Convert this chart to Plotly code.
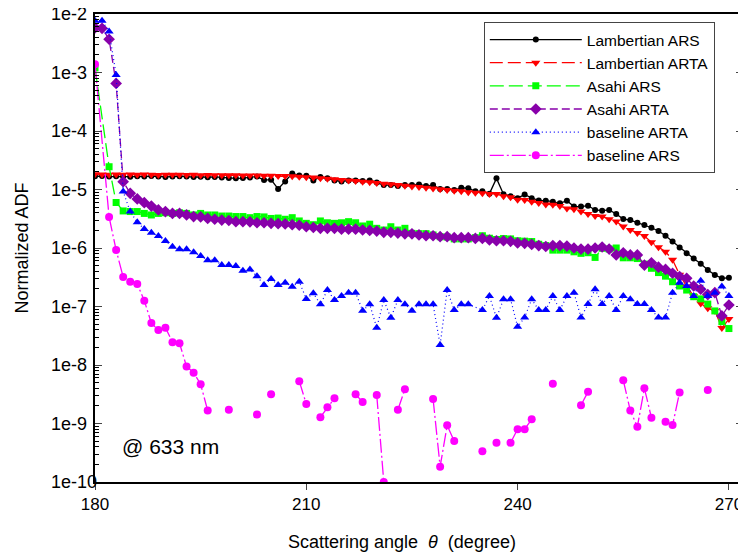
import plotly.graph_objects as go

# ---------------- data ----------------
angles = list(range(180, 271))

lambertian_ars = [
    1.68e-5, 1.70e-5, 1.66e-5, 1.69e-5, 1.67e-5, 1.65e-5, 1.68e-5, 1.66e-5, 1.70e-5, 1.67e-5,
    1.64e-5, 1.66e-5, 1.69e-5, 1.66e-5, 1.63e-5, 1.65e-5, 1.62e-5, 1.64e-5, 1.60e-5, 1.58e-5,
    1.55e-5, 1.57e-5, 1.60e-5, 1.66e-5, 1.45e-5, 1.47e-5, 1.02e-5, 1.37e-5, 1.87e-5, 1.74e-5,
    1.72e-5, 1.43e-5, 1.64e-5, 1.55e-5, 1.43e-5, 1.37e-5, 1.43e-5, 1.43e-5, 1.40e-5, 1.43e-5,
    1.32e-5, 1.19e-5, 1.19e-5, 1.15e-5, 1.19e-5, 1.19e-5, 1.22e-5, 1.15e-5, 1.19e-5, 1.02e-5,
    1.02e-5, 9.8e-6, 1.07e-5, 1.05e-5, 9.3e-6, 9.3e-6, 8.5e-6, 1.55e-5, 8.3e-6, 7.7e-6,
    7.1e-6, 8.2e-6, 7.1e-6, 6.5e-6, 6.45e-6, 6.2e-6, 5.8e-6, 6.45e-6, 5.1e-6, 5.1e-6,
    5.3e-6, 4.47e-6, 4.35e-6, 4.47e-6, 3.81e-6, 3.13e-6, 3.0e-6, 2.71e-6, 2.47e-6, 2.22e-6,
    1.95e-6, 1.62e-6, 1.29e-6, 1.02e-6, 8.1e-7, 6.6e-7, 5.4e-7, 4.2e-7, 3.47e-7, 3.03e-7,
    3.1e-7,
]

lambertian_arta = [
    1.82e-5, 1.80e-5, 1.79e-5, 1.81e-5, 1.79e-5, 1.80e-5, 1.78e-5, 1.80e-5, 1.79e-5, 1.77e-5,
    1.79e-5, 1.78e-5, 1.79e-5, 1.77e-5, 1.78e-5, 1.76e-5, 1.77e-5, 1.76e-5, 1.75e-5, 1.76e-5,
    1.75e-5, 1.73e-5, 1.74e-5, 1.73e-5, 1.72e-5, 1.71e-5, 1.70e-5, 1.70e-5, 1.68e-5, 1.65e-5,
    1.62e-5, 1.60e-5, 1.55e-5, 1.53e-5, 1.50e-5, 1.46e-5, 1.43e-5, 1.40e-5, 1.36e-5, 1.33e-5,
    1.29e-5, 1.26e-5, 1.23e-5, 1.19e-5, 1.16e-5, 1.13e-5, 1.10e-5, 1.07e-5, 1.04e-5, 1.01e-5,
    9.8e-6, 9.5e-6, 9.3e-6, 9.0e-6, 8.8e-6, 8.6e-6, 8.4e-6, 8.35e-6, 7.7e-6, 7.35e-6,
    6.7e-6, 6.6e-6, 6.2e-6, 5.9e-6, 5.55e-6, 5.5e-6, 5.2e-6, 4.75e-6, 4.6e-6, 4.2e-6,
    3.81e-6, 3.52e-6, 3.45e-6, 3.1e-6, 2.83e-6, 2.32e-6, 2.03e-6, 1.8e-6, 1.6e-6, 1.25e-6,
    1.03e-6, 8.6e-7, 6.3e-7, 3.5e-7, 2.2e-7, 1.5e-7, 1.13e-7, 9.3e-8, 8.5e-8, 4.3e-8,
    6.1e-8,
]

asahi_ars_angles = [180] + list(range(182, 271))
asahi_ars = [
    1.2e-3, 2.45e-5, 6.0e-6, 4.3e-6, 4.2e-6, 4.2e-6, 3.9e-6, 3.67e-6, 3.9e-6, 4.0e-6,
    3.9e-6, 4.0e-6, 3.9e-6, 3.67e-6, 3.9e-6, 3.67e-6, 3.67e-6, 3.52e-6, 3.52e-6, 3.45e-6,
    3.45e-6, 3.3e-6, 3.45e-6, 3.4e-6, 3.2e-6, 3.25e-6, 3.1e-6, 3.3e-6, 2.9e-6, 2.64e-6,
    2.5e-6, 2.9e-6, 2.7e-6, 2.64e-6, 2.7e-6, 2.82e-6, 2.7e-6, 2.38e-6, 2.55e-6, 2.17e-6,
    2.03e-6, 2.31e-6, 2.03e-6, 2.17e-6, 1.78e-6, 1.76e-6, 1.76e-6, 1.67e-6, 1.56e-6, 1.54e-6,
    1.43e-6, 1.43e-6, 1.43e-6, 1.5e-6, 1.62e-6, 1.47e-6, 1.4e-6, 1.45e-6, 1.43e-6, 1.33e-6,
    1.31e-6, 1.29e-6, 1.16e-6, 1.1e-6, 9.2e-7, 9.2e-7, 9.2e-7, 8.6e-7, 8.1e-7, 8.3e-7,
    6.9e-7, 9.9e-7, 9.6e-7, 1.0e-6, 6.8e-7, 6.8e-7, 6.6e-7, 5.3e-7, 4.5e-7, 3.8e-7,
    3.3e-7, 2.65e-7, 2.24e-7, 1.91e-7, 1.47e-7, 1.35e-7, 1.1e-7, 8.4e-8, 5.5e-8, 4.2e-8,
]

asahi_arta = [
    5.8e-3, 5.7e-3, 3.7e-3, 6.5e-4, 1.36e-5, 8.6e-6, 6.9e-6, 5.96e-6, 5.2e-6, 4.47e-6,
    4.2e-6, 3.9e-6, 3.9e-6, 3.67e-6, 3.45e-6, 3.4e-6, 3.2e-6, 3.1e-6, 3.0e-6, 2.95e-6,
    2.82e-6, 2.82e-6, 2.8e-6, 2.7e-6, 2.7e-6, 2.64e-6, 2.6e-6, 2.58e-6, 2.5e-6, 2.45e-6,
    2.31e-6, 2.24e-6, 2.17e-6, 2.17e-6, 2.17e-6, 2.1e-6, 2.1e-6, 2.1e-6, 2.03e-6, 2.0e-6,
    1.95e-6, 1.85e-6, 1.85e-6, 1.8e-6, 1.75e-6, 1.75e-6, 1.67e-6, 1.62e-6, 1.62e-6, 1.56e-6,
    1.56e-6, 1.5e-6, 1.5e-6, 1.5e-6, 1.46e-6, 1.46e-6, 1.37e-6, 1.33e-6, 1.33e-6, 1.3e-6,
    1.22e-6, 1.2e-6, 1.15e-6, 1.1e-6, 1.06e-6, 1.1e-6, 1.1e-6, 1.08e-6, 1.0e-6, 9.6e-7,
    9.6e-7, 1.0e-6, 1.04e-6, 9.6e-7, 7.6e-7, 8.3e-7, 7.6e-7, 7.6e-7, 5.1e-7, 5.6e-7,
    4.7e-7, 4.3e-7, 3.7e-7, 3.25e-7, 3.03e-7, 2.24e-7, 1.97e-7, 1.6e-7, 1.72e-7, 6.9e-8,
    1.06e-7,
]

baseline_arta_angles = list(range(180, 234)) + list(range(235, 271))
baseline_arta = [
    7.7e-3, 7.7e-3, 5.0e-3, 9.1e-4, 9.2e-6, 4.2e-6, 2.75e-6, 2.11e-6, 1.83e-6, 1.6e-6,
    1.32e-6, 1.05e-6, 9.5e-7, 9.5e-7, 8.5e-7, 7.3e-7, 6.2e-7, 6.2e-7, 5.1e-7, 5.1e-7,
    4.9e-7, 4.1e-7, 4.3e-7, 3.3e-7, 2.33e-7, 2.95e-7, 2.33e-7, 2.55e-7, 2.18e-7, 2.65e-7,
    1.35e-7, 1.68e-7, 1.09e-7, 1.91e-7, 1.29e-7, 1.51e-7, 1.72e-7, 1.72e-7, 8.5e-8, 1.09e-7,
    4.35e-8, 1.29e-7, 6.4e-8, 1.29e-7, 1.09e-7, 8.5e-8, 1.09e-7, 1.09e-7, 1.09e-7, 2.2e-8,
    1.91e-7, 8.7e-8, 1.09e-7, 1.09e-7,
    8.7e-8, 1.51e-7, 6.4e-8, 1.33e-7, 1.33e-7, 4.5e-8, 6.5e-8, 1.33e-7, 8.7e-8, 8.7e-8,
    1.51e-7, 8.7e-8, 1.51e-7, 1.72e-7, 6.5e-8, 1.1e-7, 1.97e-7, 1.1e-7, 1.51e-7, 8.7e-8,
    1.51e-7, 1.33e-7, 1.1e-7, 1.1e-7, 8.7e-8, 6.5e-8, 6.5e-8, 1.72e-7, 2.55e-7, 2.24e-7,
    1.51e-7, 2.76e-7, 1.51e-7, 1.72e-7, 2.2e-7, 1.51e-7,
]

# None separates unconnected runs of measured points
baseline_ars_angles = [
    180, 182, 183, 184, 185, 186, 187, 188, 189, 190, 191, 192, 193, 194, 195, 196, None,
    199, None, 203, None, 205, None, 209, 210, None, 212, 213, 214, None, 217, 218, None,
    220, 221, None, 223, 224, None, 228, 229, 230, 231, None, 235, None, 237, None,
    239, 240, 241, 242, None, 245, None, 249, 250, None, 255, 256, 257, 258, 259, None,
    261, 262, 263, None, 267,
]
baseline_ars = [
    1.38e-3, 3.4e-6, 9.2e-7, 3.2e-7, 2.65e-7, 2.43e-7, 1.26e-7, 5.2e-8, 3.96e-8, 4.35e-8,
    2.45e-8, 2.35e-8, 9.4e-9, 7.4e-9, 4.7e-9, 1.66e-9, None,
    1.72e-9, None, 1.43e-9, None, 3.16e-9, None, 5.3e-9, 2.15e-9, None, 1.28e-9, 1.9e-9, 2.7e-9, None,
    3.15e-9, 2.33e-9, None, 3.07e-9, 1.0e-10, None, 1.72e-9, 3.85e-9, None,
    2.62e-9, 1.83e-10, 9.3e-10, 5.0e-10, None, 3.35e-10, None, 4.7e-10, None,
    4.7e-10, 8.0e-10, 8.0e-10, 1.18e-9, None, 4.8e-9, None, 2.05e-9, 3.5e-9, None,
    5.5e-9, 1.66e-9, 8.8e-10, 4.0e-9, 1.26e-9, None, 1.07e-9, 9.4e-10, 3.4e-9, None, 3.74e-9,
]

y_tick_exponents = [-10, -9, -8, -7, -6, -5, -4, -3, -2]
y_tick_text = ["1e-10", "1e-9", "1e-8", "1e-7", "1e-6", "1e-5", "1e-4", "1e-3", "1e-2"]
x_tick_vals = [180, 210, 240, 270]

FONT = "Arial, Liberation Sans, sans-serif"

fig = go.Figure()

series = [
    ("Lambertian ARS", angles, lambertian_ars, "black", "solid", "circle", 6, 1.3),
    ("Lambertian ARTA", angles, lambertian_arta, "#FF0000", "13px,5px", "triangle-down", 8, 1.3),
    ("Asahi ARS", asahi_ars_angles, asahi_ars, "#00FF00", "14px,5px", "square", 7, 1.3),
    ("Asahi ARTA", angles, asahi_arta, "#8800AA", "8px,4px", "diamond", 9, 1.3),
    ("baseline ARTA", baseline_arta_angles, baseline_arta, "#0000FF", "1px,3px", "triangle-up", 8, 1.2),
    ("baseline ARS", baseline_ars_angles, baseline_ars, "#FF00FF", "14px,3px,2px,3px", "circle", 8, 1.3),
]
for name, xs, ys, col, dash, sym, msize, lw in series:
    fig.add_trace(go.Scatter(
        x=xs, y=ys, name=name, mode="lines+markers",
        line=dict(color=col, dash=dash, width=lw),
        marker=dict(color=col, symbol=sym, size=msize, line=dict(width=0)),
        connectgaps=False,
    ))

minor_vals = [m * 10.0 ** e for e in range(-10, -2) for m in range(2, 10)]

# page body offsets the figure a few pixels; compensate so the plot sits where the reference has it
OFF_X, OFF_Y = 6, 8
annotations = [
    dict(text=t, x=-0.0708, y=e, xref="paper", yref="y", xanchor="left", yanchor="middle",
         showarrow=False, font=dict(size=18))
    for t, e in zip(y_tick_text, y_tick_exponents)
]
annotations += [
    dict(text="@ 633 nm", x=0.038, y=0.075, xref="paper", yref="paper",
         xanchor="left", yanchor="middle", showarrow=False, font=dict(size=21)),
    dict(text="Scattering angle  <i>θ</i>  (degree)", x=0.474, y=-0.128,
         xref="paper", yref="paper", xanchor="center", yanchor="middle",
         showarrow=False, font=dict(size=18)),
    dict(text="Normalized ADF", x=-0.112, y=0.5, xref="paper", yref="paper",
         xanchor="center", yanchor="middle", textangle=-90,
         showarrow=False, font=dict(size=18)),
]

fig.update_layout(
    width=746 - OFF_X, height=558 - OFF_Y,
    margin=dict(l=93 - OFF_X, r=3, t=14 - OFF_Y, b=76),
    paper_bgcolor="white", plot_bgcolor="white",
    font=dict(family=FONT, color="black"),
    xaxis=dict(
        range=[180, 272], tickvals=x_tick_vals, ticks="outside", ticklen=6,
        showline=True, linecolor="black", linewidth=1.5, mirror=True,
        showgrid=False, zeroline=False, tickfont=dict(size=17),
    ),
    yaxis=dict(
        type="log", range=[-10, -2], tickvals=[10.0 ** e for e in y_tick_exponents],
        showticklabels=False,
        ticks="inside", ticklen=7, mirror="allticks",
        showline=True, linecolor="black", linewidth=1.5,
        showgrid=False, zeroline=False,
        minor=dict(tickmode="array", tickvals=minor_vals, ticks="inside", ticklen=4,
                   tickcolor="black", showgrid=False),
    ),
    legend=dict(
        x=0.6, y=0.983, xanchor="left", yanchor="top",
        bgcolor="white", bordercolor="#444", borderwidth=1,
        font=dict(size=15.5, family=FONT),
        itemwidth=92, tracegroupgap=0,
    ),
    annotations=annotations,
)

fig.write_html("out.html")
